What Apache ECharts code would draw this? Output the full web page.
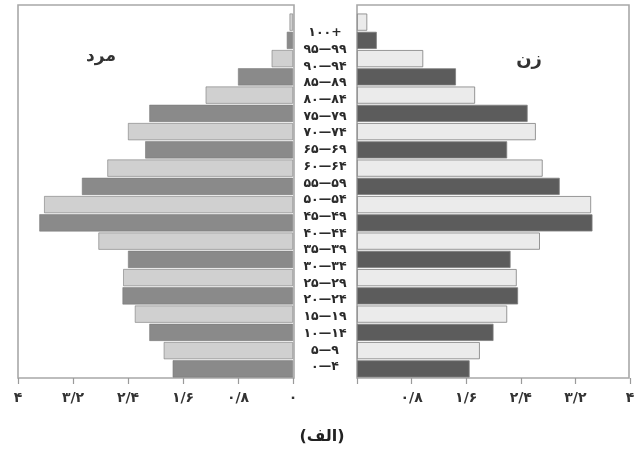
<!DOCTYPE html>
<html><head><meta charset="utf-8">
<script src="https://cdn.jsdelivr.net/npm/echarts@6/dist/echarts.min.js"></script>
<style>html,body{margin:0;padding:0;background:#fff}#c{width:644px;height:454px}</style>
</head><body><div id="c"></div>
<script>
// age group labels, bottom to top
const ageGroups = ['۰—۴','۵—۹','۱۰—۱۴','۱۵—۱۹','۲۰—۲۴','۲۵—۲۹','۳۰—۳۴','۳۵—۳۹','۴۰—۴۴','۴۵—۴۹','۵۰—۵۴','۵۵—۵۹','۶۰—۶۴','۶۵—۶۹','۷۰—۷۴','۷۵—۷۹','۸۰—۸۴','۸۵—۸۹','۹۰—۹۴','۹۵—۹۹','۱۰۰+'];
// the drawn bars (20 rows, bottom to top)
const barGroups = ageGroups.slice(0, 20);
const menValues   = [1.75,1.88,2.09,2.30,2.48,2.47,2.40,2.83,3.69,3.62,3.07,2.70,2.15,2.40,2.09,1.27,0.80,0.31,0.09,0.05];
const womenValues = [1.65,1.80,2.00,2.20,2.36,2.34,2.25,2.68,3.45,3.43,2.97,2.72,2.20,2.62,2.50,1.73,1.45,0.97,0.29,0.15];
const tickLabels = ['۰','۰/۸','۱/۶','۲/۴','۳/۲','۴'];
const menTitle = 'مرد', womenTitle = 'زن', caption = '(الف)';

const FONT = 'DejaVu Sans';
const chart = echarts.init(document.getElementById('c'), null, {renderer:'canvas'});
const tickFmt = (hideZero) => (v) => {
  const i = Math.round(v / 0.8);
  if (hideZero && i === 0) return '';
  return tickLabels[i] || '';
};
const valAxis = (grid, inverse, hideZero) => ({
  type:'value', gridIndex:grid, min:0, max:4, interval:0.8, inverse:inverse,
  axisLine:{show:false},
  axisTick:{show:true, length:6, lineStyle:{color:'#9a9a9a', width:1.2}},
  splitLine:{show:false},
  axisLabel:{formatter:tickFmt(hideZero), margin:13, fontFamily:FONT, fontWeight:'bold', fontSize:14, color:'#333'}
});
const hiddenX = (g) => ({type:'value', gridIndex:g, show:false, min:0, max:1});
const hiddenY = (g) => ({type:'value', gridIndex:g, show:false, min:0, max:1});

chart.setOption({
  animation:false,
  backgroundColor:'#fff',
  grid:[
    {left:18, width:275, top:13, height:365},
    {left:357, width:273, top:13, height:365},
    {left:18, width:276, top:5, height:373, show:true, borderColor:'#a8a8a8', borderWidth:1.6, backgroundColor:'transparent'},
    {left:357, width:272, top:5, height:373, show:true, borderColor:'#a8a8a8', borderWidth:1.6, backgroundColor:'transparent'},
    {left:325, width:1, top:24.6, height:350.8}
  ],
  xAxis:[
    valAxis(0, true, false),
    valAxis(1, false, true),
    hiddenX(2), hiddenX(3), hiddenX(4)
  ],
  yAxis:[
    {type:'category', gridIndex:0, data:barGroups, show:false},
    {type:'category', gridIndex:1, data:barGroups, show:false},
    hiddenY(2), hiddenY(3),
    {type:'category', gridIndex:4, data:ageGroups, axisLine:{show:false}, axisTick:{show:false},
     axisLabel:{margin:0, align:'center', fontFamily:FONT, fontWeight:'bold', fontSize:12.5, color:'#2a2a2a', interval:0}}
  ],
  series:[
    {type:'bar', name:menTitle, xAxisIndex:0, yAxisIndex:0, data:menValues, barCategoryGap:'6%',
     itemStyle:{color:(p)=> p.dataIndex % 2 === 0 ? '#8a8a8a' : '#d0d0d0', borderColor:'#7a7a7a', borderWidth:0.6}},
    {type:'bar', name:womenTitle, xAxisIndex:1, yAxisIndex:1, data:womenValues, barCategoryGap:'6%',
     itemStyle:{color:(p)=> p.dataIndex % 2 === 0 ? '#5c5c5c' : '#ebebeb', borderColor:'#7d7d7d', borderWidth:0.8}}
  ],
  graphic:[
    {type:'text', x:101, y:57, style:{text:menTitle, font:'bold 17px "DejaVu Sans"', fill:'#333', textAlign:'center', textVerticalAlign:'middle'}},
    {type:'text', x:529, y:60, style:{text:womenTitle, font:'bold 18px "DejaVu Sans"', fill:'#333', textAlign:'center', textVerticalAlign:'middle'}},
    {type:'text', x:322, y:437, style:{text:caption, font:'bold 16px "DejaVu Sans"', fill:'#222', textAlign:'center', textVerticalAlign:'middle'}}
  ]
});
</script></body></html>
